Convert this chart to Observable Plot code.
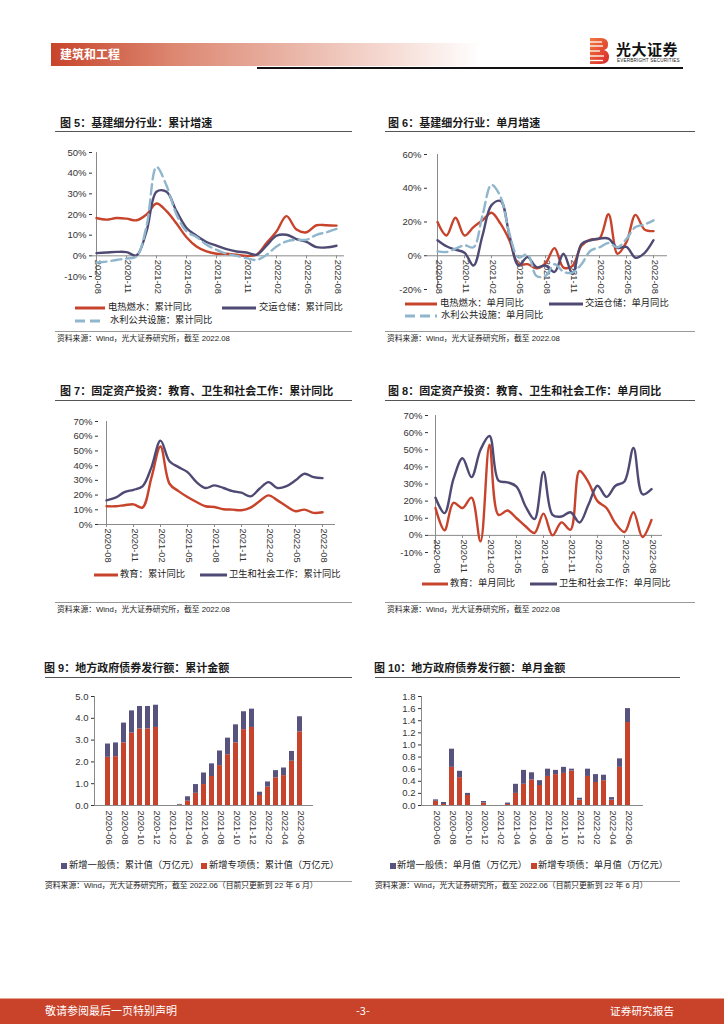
<!DOCTYPE html>
<html><head><meta charset="utf-8">
<script src="https://cdn.jsdelivr.net/npm/d3@7"></script>
<script src="https://cdn.jsdelivr.net/npm/@observablehq/plot@0.6"></script>
<style>
html,body{margin:0;padding:0;background:#fff}
body{width:724px;height:1024px;position:relative;overflow:hidden;font-family:"Liberation Sans","Noto Sans CJK SC",sans-serif;color:#222}
.abs{position:absolute;white-space:nowrap}
.wrap{line-height:0}
.wrap svg{display:block}
</style></head><body>
<script>
// ---------- data ----------
const months = ["2020-08","2020-09","2020-10","2020-11","2020-12","2021-01","2021-02","2021-03","2021-04","2021-05","2021-06","2021-07","2021-08","2021-09","2021-10","2021-11","2021-12","2022-01","2022-02","2022-03","2022-04","2022-05","2022-06","2022-07","2022-08"];
const monthTicks = ["2020-08","2020-11","2021-02","2021-05","2021-08","2021-11","2022-02","2022-05","2022-08"];

// 图5 累计同比 (%)
const dianReCum  = [18.3,17.5,18.3,18.0,17.2,20.0,25.3,21.6,15.6,9.0,4.5,2.1,1.0,1.0,0.5,0.0,0.5,6.2,11.8,19.2,12.7,11.4,14.8,14.8,14.6];
const jiaoYunCum = [1.3,1.6,1.9,1.8,0.2,11.8,31.0,31.0,21.6,13.5,9.7,6.7,4.9,3.2,2.1,1.6,0.5,4.9,9.7,10.2,8.1,6.7,4.2,4.1,4.9];
const shuiLiCum  = [-3.2,-2.8,-2.0,-1.3,-0.3,14.3,43.0,34.0,20.0,11.8,9.1,5.4,2.9,1.0,0.0,-1.1,-2.0,0.5,4.5,7.0,7.8,7.8,10.2,11.4,13.0];
// 图6 单月同比 (%)
const dianReMon  = [20,12,22.5,12,17,21,25.5,19,9,-5,-5,-7.5,-4.5,4.5,-7,-6,6,9.6,10.2,24.6,1.2,8.2,24.2,15.6,14.6];
const jiaoYunMon = [9.2,5.6,3.6,1.8,-5.8,12,30,32.5,12,-5.8,-0.8,-6.8,-5.8,-9.6,1.2,-10.8,7,9.2,10.2,10.2,4.6,5.2,-1.2,1.6,9.2];
const shuiLiMon  = [2.6,2.2,4.2,6.2,5,24,42,35,13,-1,0.8,-12,-12,-5,-9.5,-10,-5,3,5,7.6,5,10,17,18.5,21];
// 图7 累计同比 (%)
const jiaoYuCum   = [12.4,12.4,13.1,13.7,11.5,32,53,27.7,22.7,18.7,15.3,12.4,11.9,10.4,10.1,9.7,11.5,15.8,19.8,16.4,12.4,9,10.1,7.9,8.3];
const weiShengCum = [16.4,18.2,22,23.6,25.9,39,57,43,39,35.6,28.8,24.8,26.6,24.8,22.7,21.6,19.1,24.3,28.8,24.8,26.1,30,34.5,32.2,31.5];
// 图8 单月同比 (%)
const jiaoYuMon   = [16,3,19,16,22,-3.5,53,12,14.5,10,5.3,1.4,12.7,0,7.6,3.3,37.6,31,20,16,7,2,13.5,-1,9];
const weiShengMon = [22,13,33,45,34,50,58,32,31,28.5,17,9.5,37,12,11,13.5,7.5,18,29,22.5,29,31.5,51,24,27];

// 图9/图10 地方政府债券 (万亿元)
const bondMonths = ["2020-06","2020-07","2020-08","2020-09","2020-10","2020-11","2020-12","2021-01","2021-02","2021-03","2021-04","2021-05","2021-06","2021-07","2021-08","2021-09","2021-10","2021-11","2021-12","2022-01","2022-02","2022-03","2022-04","2022-05","2022-06"];
const bondTicks = ["2020-06","2020-08","2020-10","2020-12","2021-02","2021-04","2021-06","2021-08","2021-10","2021-12","2022-02","2022-04","2022-06"];
const zhuanXiangCum = [2.21,2.24,2.87,3.32,3.51,3.51,3.58,0,0,0.02,0.20,0.56,0.96,1.33,1.83,2.33,2.87,3.48,3.58,0.46,0.84,1.27,1.37,2.03,3.38];
const yiBanCum      = [0.61,0.63,0.91,1.02,1.03,1.03,1.02,0,0,0.03,0.20,0.40,0.53,0.58,0.67,0.76,0.83,0.82,0.84,0.15,0.24,0.33,0.35,0.45,0.69];
const zhuanXiangMon = [0.07,0.016,0.63,0.46,0.165,0,0.04,0,0,0.016,0.20,0.35,0.42,0.33,0.48,0.51,0.53,0.57,0.088,0.48,0.38,0.41,0.088,0.63,1.37];
const yiBanMon      = [0.023,0.034,0.30,0.105,0.035,0,0.026,0,0,0.024,0.15,0.23,0.12,0.08,0.12,0.07,0.10,0.03,0.032,0.12,0.13,0.09,0.042,0.14,0.23];

// ---------- style ----------
const RED = "#C8432B", PURPLE = "#4F4A73", BLUE = "#8FB6CC", BAR_PURPLE = "#57527E", AX = "#8a8a8a";
const FONT = '"Liberation Sans","Noto Sans CJK SC",sans-serif';

function place(node, left, top) {
  const d = document.createElement("div");
  d.className = "abs wrap"; d.style.left = left + "px"; d.style.top = top + "px";
  d.appendChild(node); document.body.appendChild(d); return d;
}
function txt(x, cy, s, size, extra = "") {
  const d = document.createElement("div");
  d.className = "abs";
  d.style.cssText += `left:${x}px;top:${cy - size * 0.62}px;font-size:${size}px;line-height:${size * 1.24}px;${extra}`;
  d.textContent = s; document.body.appendChild(d); return d;
}
function hline(x1, x2, y, color, w = 1) {
  const d = document.createElement("div");
  d.className = "abs";
  d.style.cssText += `left:${x1}px;top:${y}px;width:${x2 - x1}px;height:${w}px;background:${color}`;
  document.body.appendChild(d);
}
function lineSw(x1, x2, cy, color, dash) {
  const ns = "http://www.w3.org/2000/svg";
  const s = document.createElementNS(ns, "svg");
  s.setAttribute("width", x2 - x1); s.setAttribute("height", 6);
  const l = document.createElementNS(ns, "line");
  l.setAttribute("x1", 0); l.setAttribute("x2", x2 - x1); l.setAttribute("y1", 3); l.setAttribute("y2", 3);
  l.setAttribute("stroke", color); l.setAttribute("stroke-width", 3);
  if (dash) l.setAttribute("stroke-dasharray", dash);
  s.appendChild(l); place(s, x1, cy - 3);
}
function sqSw(x, cy, color) {
  const d = document.createElement("div");
  d.className = "abs";
  d.style.cssText += `left:${x}px;top:${cy - 3}px;width:6px;height:6px;background:${color}`;
  document.body.appendChild(d);
}

function lineChart(c) {
  const marks = [
    Plot.ruleY([0], {stroke: AX, strokeWidth: 1}),
    Plot.ruleX([months[0]], {y1: c.yDomain[0], y2: c.yDomain[1], stroke: AX}),
    Plot.ruleX(monthTicks, {x: d => d, y1: 0, y2: 0, insetBottom: -3, stroke: AX}),
    Plot.text(monthTicks, {x: d => d, y: 0, text: d => d, rotate: 90, textAnchor: "start", lineAnchor: "middle", dy: 4, dx: 1, fontSize: 9.3, fill: "#333"}),
    ...c.series.map(s => Plot.line(s.values, {x: (d, i) => months[i], y: d => d, stroke: s.color, strokeWidth: 2.4, strokeDasharray: s.dash, curve: "catmull-rom"}))
  ];
  const svg = Plot.plot({
    width: c.width, height: c.height,
    marginLeft: c.mL, marginRight: c.mR, marginTop: c.mT, marginBottom: c.mB,
    x: {type: "point", domain: months, padding: 0, insetRight: c.insetRight, axis: null},
    y: {domain: c.yDomain, ticks: c.yTicks, tickFormat: d => d + "%", tickSize: 3, tickPadding: 3, label: null},
    style: {fontFamily: FONT, fontSize: "9.5px", color: "#333", background: "transparent", overflow: "visible"},
    marks
  });
  place(svg, c.left, c.top);
}

function barChart(c) {
  const data = [
    ...bondMonths.map((m, i) => ({m, s: "专项", v: c.spec[i]})),
    ...bondMonths.map((m, i) => ({m, s: "一般", v: c.gen[i]}))
  ];
  const svg = Plot.plot({
    width: c.width, height: c.height,
    marginLeft: c.mL, marginRight: c.mR, marginTop: c.mT, marginBottom: c.mB,
    x: {type: "band", domain: bondMonths, paddingInner: 0.32, paddingOuter: c.pOuter, axis: null},
    y: {domain: c.yDomain, ticks: c.yTicks, tickFormat: d => d.toFixed(1), tickSize: 3, tickPadding: 3, label: null},
    color: {domain: ["专项", "一般"], range: [RED, BAR_PURPLE]},
    style: {fontFamily: FONT, fontSize: "9.5px", color: "#333", background: "transparent", overflow: "visible"},
    marks: [
      Plot.barY(data, {x: "m", y: "v", fill: "s"}),
      Plot.ruleY([0], {stroke: AX}),
      Plot.frame({anchor: "left", stroke: AX}),
      Plot.text(bondTicks, {x: d => d, y: 0, text: d => d, rotate: 90, textAnchor: "start", lineAnchor: "middle", dy: 5, dx: 1, fontSize: 9.3, fill: "#333"})
    ]
  });
  place(svg, c.left, c.top);
}

// ---------- header ----------
(function header() {
  const bar = document.createElement("div");
  bar.className = "abs";
  bar.style.cssText += "left:51px;top:43px;width:430px;height:23px;background:linear-gradient(90deg,#c8442b 0%,#dc8670 28%,#e9b3a5 55%,#f6ddd6 80%,#ffffff 100%)";
  document.body.appendChild(bar);
  txt(60, 54.5, "建筑和工程", 12, "color:#fff;font-weight:bold;font-family:'Noto Sans CJK SC',sans-serif");
  hline(257, 683, 67, "#111", 1.5);
  const ns = "http://www.w3.org/2000/svg";
  const s = document.createElementNS(ns, "svg");
  s.setAttribute("width", 22); s.setAttribute("height", 28);
  s.innerHTML = `<defs><linearGradient id="lg" x1="0" x2="1" y1="0" y2="1"><stop offset="0" stop-color="#f07a3c"/><stop offset="1" stop-color="#d9262a"/></linearGradient></defs>
  <path d="M1 1 H12 Q19 1 19 7.5 Q19 12 15 13 Q20 14.5 20 20 Q20 27 12 27 H1 Z" fill="url(#lg)"/>
  <g stroke="#fff" stroke-width="1.3"><line x1="1" x2="13" y1="5" y2="5"/><line x1="1" x2="14" y1="9" y2="9"/><line x1="1" x2="11" y1="14" y2="14"/><line x1="1" x2="15" y1="19" y2="19"/><line x1="1" x2="14" y1="23.5" y2="23.5"/></g>`;
  place(s, 589, 37);
  txt(616, 49, "光大证券", 15, "font-weight:bold;color:#111;font-family:'Noto Sans CJK SC',sans-serif;letter-spacing:0.5px");
  txt(617, 60.5, "EVERBRIGHT SECURITIES", 4.6, "color:#222;letter-spacing:0.2px");
})();

// ---------- titles, rules, sources ----------
const TITLE = "font-weight:bold;color:#1a1a1a;font-family:'Liberation Sans','Noto Sans CJK SC',sans-serif";
txt(60, 124, "图 5：基建细分行业：累计增速", 11, TITLE);
txt(388, 124, "图 6：基建细分行业：单月增速", 11, TITLE);
hline(55, 352, 131, "#555"); hline(385, 695, 131, "#555");
txt(60, 392, "图 7：固定资产投资：教育、卫生和社会工作：累计同比", 11, TITLE);
txt(388, 392, "图 8：固定资产投资：教育、卫生和社会工作：单月同比", 11, TITLE);
hline(55, 352, 400, "#555"); hline(385, 695, 400, "#555");
txt(44, 669, "图 9：地方政府债券发行额：累计金额", 11, TITLE);
txt(374, 669, "图 10：地方政府债券发行额：单月金额", 11, TITLE);
hline(45, 352, 677, "#555"); hline(375, 680, 677, "#555");

const SRC = "color:#222";
hline(55, 352, 331, "#999"); hline(385, 695, 331, "#999");
txt(57, 339, "资料来源：Wind，光大证券研究所，截至 2022.08", 7.8, SRC);
txt(387, 339, "资料来源：Wind，光大证券研究所，截至 2022.08", 7.8, SRC);
hline(55, 352, 602, "#999"); hline(385, 695, 602, "#999");
txt(57, 609.5, "资料来源：Wind，光大证券研究所，截至 2022.08", 7.8, SRC);
txt(387, 609.5, "资料来源：Wind，光大证券研究所，截至 2022.08", 7.8, SRC);
hline(45, 352, 881, "#999"); hline(375, 680, 881, "#999");
txt(45, 886, "资料来源：Wind，光大证券研究所，截至 2022.06（目前只更新到 22 年 6 月）", 7.8, SRC);
txt(375, 886, "资料来源：Wind，光大证券研究所，截至 2022.06（目前只更新到 22 年 6 月）", 7.8, SRC);

// ---------- charts ----------
lineChart({left: 55, top: 140, width: 300, height: 165, mL: 37, mR: 11, mT: 12, mB: 29, insetRight: 4,
  yDomain: [-10, 50], yTicks: [-10, 0, 10, 20, 30, 40, 50],
  series: [{values: dianReCum, color: RED}, {values: jiaoYunCum, color: PURPLE}, {values: shuiLiCum, color: BLUE, dash: "10,5"}]});
lineChart({left: 385, top: 140, width: 310, height: 165, mL: 42, mR: 28, mT: 14, mB: 16, insetRight: 5,
  yDomain: [-20, 60], yTicks: [-20, 0, 20, 40, 60],
  series: [{values: dianReMon, color: RED}, {values: jiaoYunMon, color: PURPLE}, {values: shuiLiMon, color: BLUE, dash: "10,5"}]});
lineChart({left: 55, top: 405, width: 300, height: 170, mL: 43, mR: 20, mT: 16, mB: 51, insetRight: 5,
  yDomain: [0, 70], yTicks: [0, 10, 20, 30, 40, 50, 60, 70],
  series: [{values: jiaoYuCum, color: RED}, {values: weiShengCum, color: PURPLE}]});
lineChart({left: 385, top: 405, width: 310, height: 170, mL: 43, mR: 33, mT: 10, mB: 23, insetRight: 5,
  yDomain: [-10, 70], yTicks: [-10, 0, 10, 20, 30, 40, 50, 60, 70],
  series: [{values: jiaoYuMon, color: RED}, {values: weiShengMon, color: PURPLE}]});
barChart({left: 55, top: 685, width: 300, height: 170, mL: 39, mR: 42, mT: 11, mB: 50, pOuter: 0,
  yDomain: [0, 5], yTicks: [0, 1, 2, 3, 4, 5], spec: zhuanXiangCum, gen: yiBanCum});
barChart({left: 385, top: 685, width: 310, height: 170, mL: 36, mR: 52, mT: 11, mB: 50, pOuter: 0.15,
  yDomain: [0, 1.8], yTicks: [0, 0.2, 0.4, 0.6, 0.8, 1.0, 1.2, 1.4, 1.6, 1.8], spec: zhuanXiangMon, gen: yiBanMon});

// ---------- legends ----------
const LEG = "color:#222";
lineSw(75, 105, 308, RED); txt(108, 308, "电热燃水：累计同比", 9.3, LEG);
lineSw(222, 256, 308, PURPLE); txt(259, 308, "交运仓储：累计同比", 9.3, LEG);
lineSw(75, 105, 321, BLUE, "10,5"); txt(110, 321, "水利公共设施：累计同比", 9.3, LEG);

lineSw(405, 437, 304, RED); txt(440, 304, "电热燃水：单月同比", 9.3, LEG);
lineSw(549, 583, 304, PURPLE); txt(585, 304, "交运仓储：单月同比", 9.3, LEG);
lineSw(405, 437, 316, BLUE, "10,5"); txt(441, 316, "水利公共设施：单月同比", 9.3, LEG);

lineSw(94, 118, 575, RED); txt(120, 575, "教育：累计同比", 9.3, LEG);
lineSw(200, 227, 575, PURPLE); txt(229, 575, "卫生和社会工作：累计同比", 9.3, LEG);

lineSw(422, 448, 584, RED); txt(450, 584, "教育：单月同比", 9.3, LEG);
lineSw(530, 557, 584, PURPLE); txt(559, 584, "卫生和社会工作：单月同比", 9.3, LEG);

sqSw(61, 866, BAR_PURPLE); txt(69, 866, "新增一般债：累计值（万亿元）", 9.3, LEG);
sqSw(201, 866, RED); txt(209, 866, "新增专项债：累计值（万亿元）", 9.3, LEG);
sqSw(390, 866, BAR_PURPLE); txt(397, 866, "新增一般债：单月值（万亿元）", 9.3, LEG);
sqSw(531, 866, RED); txt(538, 866, "新增专项债：单月值（万亿元）", 9.3, LEG);

// ---------- footer ----------
(function footer() {
  const f = document.createElement("div");
  f.className = "abs";
  f.style.cssText += "left:0;top:998px;width:724px;height:26px;background:#C8432A;border-top:1px solid #e9a08f;box-sizing:border-box";
  document.body.appendChild(f);
  const F = "color:#fff;font-family:'Noto Sans CJK SC',sans-serif";
  txt(45, 1011, "敬请参阅最后一页特别声明", 11, F);
  txt(356, 1011, "-3-", 11, F);
  txt(610, 1011, "证券研究报告", 10.7, F);
})();
</script>
</body></html>
